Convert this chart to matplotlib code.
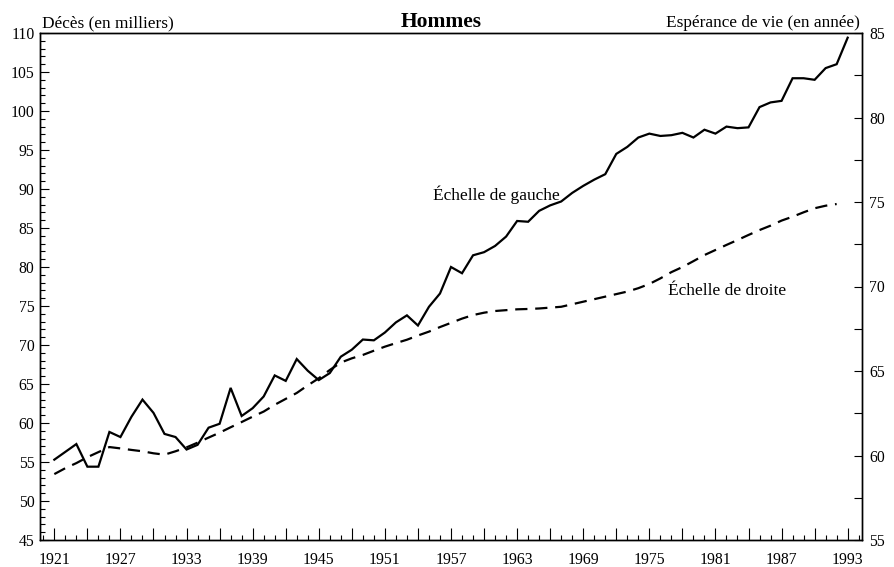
import matplotlib
matplotlib.use("Agg")
import matplotlib.pyplot as plt
from matplotlib.ticker import MultipleLocator, FixedLocator, FixedFormatter

plt.rcParams['font.family'] = ['Liberation Serif', 'DejaVu Serif']

years_deaths = list(range(1921, 1994))
deaths = [55.3, 56.3, 57.3, 54.4, 54.4, 58.85, 58.2, 60.8, 63.0, 61.3,
          58.6, 58.2, 56.6, 57.2, 59.4, 59.9, 64.5, 60.9, 61.9, 63.4,
          66.1, 65.4, 68.2, 66.7, 65.5, 66.4, 68.5, 69.4, 70.7, 70.6,
          71.6, 72.9, 73.8, 72.5, 74.9, 76.6, 80.0, 79.2, 81.5, 81.9,
          82.7, 83.9, 85.9, 85.8, 87.2, 87.9, 88.4, 89.5, 90.4, 91.2,
          91.9, 94.5, 95.4, 96.6, 97.1, 96.8, 96.9, 97.2, 96.6, 97.6,
          97.1, 98.0, 97.8, 97.9, 100.5, 101.1, 101.3, 104.2, 104.2, 104.0,
          105.5, 106.0, 109.4]

years_life = list(range(1921, 1993))
life_exp = [58.9, 59.25, 59.55, 59.9, 60.2, 60.5, 60.42, 60.33, 60.25, 60.13,
            60.05, 60.25, 60.48, 60.76, 61.06, 61.35, 61.67, 61.98, 62.3, 62.6,
            63.0, 63.35, 63.7, 64.15, 64.57, 65.06, 65.5, 65.75, 65.95, 66.2,
            66.44, 66.65, 66.85, 67.1, 67.33, 67.6, 67.85, 68.1, 68.31, 68.45,
            68.55, 68.6, 68.65, 68.67, 68.7, 68.75, 68.8, 68.95, 69.1, 69.25,
            69.4, 69.55, 69.7, 69.9, 70.15, 70.48, 70.85, 71.15, 71.5, 71.86,
            72.16, 72.46, 72.75, 73.05, 73.34, 73.6, 73.9, 74.13, 74.39, 74.63,
            74.78, 74.88]

x_major = list(range(1921, 1994, 3))
x_labels = [str(y) if (y - 1921) % 6 == 0 else '' for y in x_major]
left_ticks = list(range(45, 111, 5))
right_ticks = list(range(55, 86, 5))

title = "Hommes"
left_label = "Décès (en milliers)"
right_label = "Espérance de vie (en année)"
ann_left = "Échelle de gauche"
ann_right = "Échelle de droite"

fig = plt.figure(figsize=(8.94, 5.67), dpi=100)
ax = fig.add_axes([40/894, 1-540/567, (862-40)/894, (540-33)/567])
ax2 = ax.twinx()

ax.plot(years_deaths, deaths, color='black', lw=1.6, solid_joinstyle='miter')
ax2.plot(years_life, life_exp, color='black', lw=1.6, linestyle=(0, (5.5, 3.5)))

ax.set_xlim(1919.7, 1994.3)
ax.set_ylim(45, 110)
ax2.set_ylim(55, 85)

ax.xaxis.set_major_locator(FixedLocator(x_major))
ax.xaxis.set_major_formatter(FixedFormatter(x_labels))
ax.xaxis.set_minor_locator(MultipleLocator(1))
ax.set_yticks(left_ticks)
ax.set_yticklabels([str(v) for v in left_ticks])
ax.yaxis.set_minor_locator(MultipleLocator(1))
ax2.set_yticks(right_ticks)
ax2.set_yticklabels([str(v) for v in right_ticks])
ax2.yaxis.set_minor_locator(FixedLocator([57.5, 62.5, 67.5, 72.5, 77.5, 82.5]))

ax.tick_params(axis='x', which='major', direction='in', length=8.5, width=0.8,
               labelsize=11.3, pad=9, top=False)
ax.tick_params(axis='x', which='minor', direction='in', length=3.6, width=0.8, top=False)
ax.tick_params(axis='y', which='major', direction='in', length=6.7, width=0.8,
               labelsize=11.3, pad=4, right=False)
ax.tick_params(axis='y', which='minor', direction='in', length=3.6, width=0.8, right=False)
ax2.tick_params(axis='y', which='both', direction='in', length=6.0, width=0.8,
                labelsize=11.3, pad=5)

for a in (ax, ax2):
    for s in a.spines.values():
        s.set_linewidth(1.0)

fig.text(441/894, 1-22/567, title, ha='center', va='center', fontsize=15.5,
         fontweight='bold')
ax.text(0.002, 1.004, left_label, transform=ax.transAxes, ha='left', va='bottom',
        fontsize=12.4)
ax.text(0.997, 1.004, right_label, transform=ax.transAxes, ha='right', va='bottom',
        fontsize=12.4)
ax.text(1955.4, 88.6, ann_left, ha='left', va='baseline', fontsize=12.5)
ax.text(1976.7, 76.4, ann_right, ha='left', va='baseline', fontsize=12.5)

fig.savefig("out.png", dpi=100)
